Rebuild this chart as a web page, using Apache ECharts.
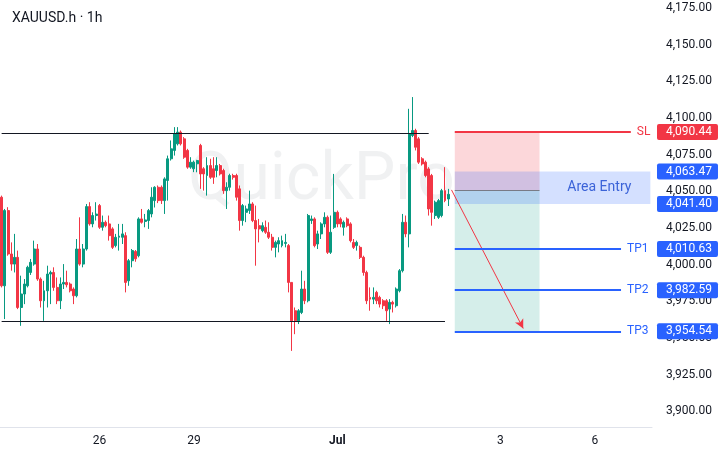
<!DOCTYPE html>
<html>
<head>
<meta charset="UTF-8">
<title>XAUUSD.h 1h</title>
<script src="https://cdn.jsdelivr.net/npm/echarts@6/dist/echarts.min.js"></script>
</head>
<body style="margin:0;background:#fff;">
<div id="main" style="width:723px;height:456px;"></div>
<script type="text/javascript">
// hourly candles
var opens  = [4046.0,3985.6,4036.9,4007.3,4000.4,4005.0,3970.8,3980.0,3985.6,3994.7,4000.4,4010.7,3990.2,3975.4,3982.2,3993.6,3994.7,3984.5,3975.4,3986.8,3987.9,3986.8,3983.4,3978.8,4010.7,4000.4,4010.7,4039.6,4027.8,4033.5,4040.3,4025.5,4028.9,4027.8,4024.4,4013.0,4018.7,4018.7,4019.8,3989.0,4002.7,4009.0,4006.1,4031.2,4029.5,4030.1,4034.6,4043.7,4052.8,4052.8,4043.7,4057.4,4072.2,4077.9,4082.4,4090.4,4085.8,4077.9,4066.5,4065.4,4068.8,4081.3,4065.4,4060.8,4067.6,4065.4,4064.2,4067.6,4064.2,4050.5,4052.8,4060.8,4060.8,4051.7,4030.1,4035.7,4037.0,4041.4,4030.1,4026.6,4023.2,4025.5,4022.1,4018.7,4011.8,4014.1,4013.0,4014.5,4013.0,3987.9,3968.6,3961.7,3967.4,3983.4,3975.4,4030.1,4031.2,4014.1,4021.0,4027.8,4032.3,4008.4,4025.5,4035.7,4031.2,4025.5,4031.2,4027.8,4015.2,4013.0,4011.8,4005.0,3994.7,3977.7,3976.5,3981.1,3977.7,3975.4,3975.4,3969.7,3974.3,3972.0,3982.2,3995.9,4028.9,4021.0,4088.1,4091.5,4085.8,4072.2,4069.9,4065.3,4060.8,4033.5,4032.3,4033.5,4050.5,4044.8];
var closes = [3985.6,4036.9,4007.3,4000.4,4005.0,3970.8,3980.0,3986.8,3998.2,4001.6,4010.7,3990.2,3975.4,3982.2,3993.6,3994.7,3984.5,3975.4,3986.8,3987.9,3986.3,3982.2,3978.8,4010.7,4000.4,4010.7,4039.6,4027.8,4033.5,4034.5,4025.5,4028.9,4026.6,4019.8,4011.8,4018.7,4019.5,4021.0,3987.9,4002.7,4009.6,4004.0,4031.2,4028.9,4030.5,4036.9,4046.0,4052.8,4043.7,4043.7,4058.5,4072.2,4079.0,4089.2,4090.4,4082.4,4073.3,4066.5,4069.9,4069.9,4071.0,4061.9,4061.9,4067.6,4059.6,4059.6,4067.6,4061.9,4050.5,4052.8,4060.8,4059.6,4046.0,4030.1,4040.3,4038.0,4041.4,4030.1,4024.4,4024.4,4026.6,4022.1,4018.7,4011.8,4015.2,4016.4,4016.4,4015.2,3987.9,3961.7,3961.7,3968.6,3983.4,3975.4,4033.5,4031.2,4013.0,4021.0,4027.8,4032.3,4008.4,4022.1,4035.7,4027.8,4027.8,4028.9,4026.6,4016.4,4011.8,4015.2,4005.0,3994.7,3975.4,3976.5,3977.7,3975.4,3973.1,3972.0,3968.6,3974.3,3973.1,3983.4,3995.9,4028.9,4021.0,4089.2,4091.5,4080.1,4069.9,4068.7,4060.8,4038.0,4035.7,4042.6,4043.7,4050.5,4043.7,4048.0];
var lows   = [3984.5,3962.9,4006.1,3995.9,3994.7,3969.7,3958.3,3973.1,3984.5,3993.0,3999.3,3989.0,3970.8,3961.7,3970.8,3973.1,3982.2,3973.1,3969.7,3983.4,3984.5,3981.1,3973.1,3977.7,3999.3,3998.2,4009.6,4026.6,4025.5,4030.1,4024.4,4023.2,4025.5,4016.4,4010.7,4011.8,4009.6,4014.1,3981.1,3985.6,3998.2,4002.0,4005.0,4028.0,4025.5,4024.4,4032.3,4039.0,4042.0,4041.4,4034.6,4043.7,4071.0,4074.4,4081.3,4081.3,4072.2,4065.4,4065.4,4063.1,4063.0,4051.7,4050.5,4047.1,4058.5,4055.1,4059.6,4060.8,4048.3,4038.0,4050.5,4058.0,4043.7,4023.2,4026.6,4029.0,4034.6,4029.0,3999.3,4015.2,4022.1,4021.0,4017.5,4009.6,4005.0,4008.4,4011.8,4011.8,3981.1,3941.2,3952.6,3959.5,3966.3,3973.1,3974.3,4027.8,4011.8,4010.7,4017.5,4025.5,4007.3,4007.3,4024.4,4025.5,4025.5,4019.8,4025.5,4015.2,4010.7,4009.6,4003.9,3992.5,3973.1,3968.6,3973.1,3973.1,3970.8,3969.7,3961.7,3959.5,3967.4,3970.8,3981.1,3994.7,4018.7,4011.8,4087.0,4077.9,4068.7,4067.6,4059.6,4033.5,4026.6,4031.2,4031.2,4032.3,4042.6,4040.0];
var highs  = [4047.1,4038.0,4039.2,4015.2,4021.0,4009.6,3992.5,3990.2,3999.3,4003.9,4016.4,4014.1,3991.3,3989.0,3999.3,3995.9,3998.2,3991.3,3991.3,4000.4,3995.9,3987.9,3984.5,4017.5,4032.3,4014.1,4041.4,4042.6,4035.7,4042.6,4041.4,4033.5,4030.1,4033.5,4025.5,4021.0,4027.8,4027.8,4022.1,4003.9,4010.7,4010.0,4032.3,4038.0,4034.6,4038.0,4052.8,4053.5,4054.0,4054.0,4059.6,4074.4,4084.7,4093.8,4093.8,4091.5,4087.0,4079.0,4073.3,4071.0,4071.5,4082.4,4066.5,4073.3,4072.2,4073.3,4073.3,4068.7,4065.4,4056.2,4062.0,4062.0,4062.0,4054.0,4041.4,4040.3,4050.5,4042.6,4040.3,4031.2,4028.9,4030.1,4028.9,4021.0,4016.4,4018.7,4019.8,4021.0,4014.1,3987.9,3970.8,3969.7,3995.9,3989.0,4034.6,4033.5,4032.3,4023.2,4028.9,4035.7,4033.5,4033.5,4061.9,4036.9,4032.3,4030.1,4032.3,4028.9,4017.5,4016.4,4013.0,4006.1,3995.9,3984.5,3984.5,3982.2,3978.8,3976.5,3976.5,3976.5,3975.4,3984.5,3997.0,4034.6,4033.5,4106.3,4114.3,4092.7,4087.0,4073.3,4071.0,4066.5,4061.9,4043.7,4044.8,4051.7,4066.5,4051.7];

// x axis: 200 hourly slots, date labels at some of them
var slotCount = 200;
var dayIndex  = [30, 59, 103, 153, 182];
var dayLabels = ['26', '29', 'Jul', '3', '6'];

// price scale labels and trade levels
var priceTicks = [3900, 3925, 3950, 3975, 4000, 4025, 4050, 4075, 4100, 4125, 4150, 4175];
var rangeTop = 4089.4, rangeBottom = 3961.7;
var stopLoss = 4090.44;
var entryHigh = 4063.47, entryLow = 4041.40, entryMid = 4051.0;
var takeProfits = [4010.63, 3982.59, 3954.54];
var tpNames = ['TP1', 'TP2', 'TP3'];

var RED = '#f23645', GREEN = '#089981', BLUE = '#2962ff', TEXT = '#131722';

var cats = [];
for (var i = 0; i < slotCount; i++) cats.push('h' + i);

var candles = [];
for (var i = 0; i < opens.length; i++) {
    candles.push([opens[i], closes[i], lows[i], highs[i]]);
}

function fmtPrice(v) {
    var s = v.toFixed(2).split('.');
    return s[0].replace(/\B(?=(\d{3})+(?!\d))/g, ',') + '.' + s[1];
}

var zoneStart = 139, zoneEnd = 165, lineEnd = 190, slEnd = 193;

var lines = [
    [{coord: [0, rangeTop]}, {coord: [131, rangeTop]}],
    [{coord: [0, rangeBottom]}, {coord: [136, rangeBottom]}],
    [{coord: [zoneStart, stopLoss], lineStyle: {color: RED, width: 2},
      label: {show: true, position: 'end', formatter: 'SL', color: RED, fontSize: 12, distance: 6}},
     {coord: [slEnd, stopLoss]}],
    [{coord: [zoneStart, entryMid], lineStyle: {color: '#787b86', width: 1}}, {coord: [zoneEnd, entryMid]}],
    [{coord: [138, entryMid], symbol: 'none', lineStyle: {color: RED, width: 1}},
     {coord: [160, 3956.5], symbol: 'arrow', symbolSize: [7, 9]}]
];
takeProfits.forEach(function (tp, k) {
    lines.push([
        {coord: [zoneStart, tp], lineStyle: {color: BLUE, width: 2},
         label: {show: true, position: 'end', formatter: tpNames[k], color: BLUE, fontSize: 12, distance: 6}},
        {coord: [lineEnd, tp]}
    ]);
});

var tagValues = [stopLoss, entryHigh, entryLow].concat(takeProfits);

var myChart = echarts.init(document.getElementById('main'));
myChart.setOption({
    animation: false,
    backgroundColor: '#ffffff',
    textStyle: {fontFamily: 'Roboto'},
    title: {
        text: 'XAUUSD.h · 1h',
        left: 7, top: 6,
        textStyle: {fontSize: 14, fontWeight: 'normal', color: TEXT, fontFamily: 'Roboto'}
    },
    graphic: [{
        type: 'text', left: 188, top: 149, z: -10, silent: true,
        style: {text: 'QuickPro', font: '66px Roboto', fill: 'rgba(120,123,134,0.11)'}
    }],
    grid: {left: 0, right: 71, top: 0, bottom: 29},
    xAxis: {
        type: 'category',
        data: cats,
        boundaryGap: true,
        axisLine: {lineStyle: {color: '#e0e3eb'}},
        axisTick: {show: false},
        splitLine: {show: false},
        axisLabel: {
            margin: 8,
            color: TEXT,
            fontSize: 12,
            interval: function (idx) { return dayIndex.indexOf(idx) >= 0; },
            formatter: function (val, idx) {
                var k = dayIndex.indexOf(idx);
                if (k < 0) return '';
                return dayLabels[k] === 'Jul' ? '{b|Jul}' : dayLabels[k];
            },
            rich: {b: {fontWeight: 'bold', fontSize: 12, color: TEXT}}
        }
    },
    yAxis: [{
        type: 'value',
        position: 'right',
        min: 3889.3,
        max: 4180.5,
        axisLine: {show: false},
        axisTick: {show: false},
        splitLine: {show: false},
        axisLabel: {
            customValues: priceTicks,
            margin: 14,
            color: TEXT,
            fontSize: 12,
            formatter: function (v) { return fmtPrice(v); }
        }
    }, {
        type: 'value',
        position: 'right',
        min: 3889.3,
        max: 4180.5,
        axisLine: {show: false},
        axisTick: {show: false},
        splitLine: {show: false},
        axisLabel: {
            customValues: tagValues,
            margin: 5,
            formatter: function (v) {
                return (Math.abs(v - stopLoss) < 0.01 ? '{r|' : '{b|') + fmtPrice(v) + '}';
            },
            rich: {
                r: {backgroundColor: RED, color: '#fff', fontSize: 12, lineHeight: 13,
                    padding: [2, 6, 2, 9], borderRadius: 2},
                b: {backgroundColor: BLUE, color: '#fff', fontSize: 12, lineHeight: 13,
                    padding: [2, 6, 2, 9], borderRadius: 2}
            }
        }
    }],
    series: [{
        type: 'candlestick',
        data: candles,
        barWidth: '75%',
        itemStyle: {
            color: GREEN, color0: RED,
            borderColor: GREEN, borderColor0: RED,
            borderWidth: 1
        },
        markLine: {
            silent: true,
            symbol: 'none',
            label: {show: false},
            lineStyle: {color: TEXT, width: 1, type: 'solid'},
            data: lines
        },
        markArea: {
            silent: true,
            data: [
                [{coord: [zoneStart, stopLoss], itemStyle: {color: 'rgba(242,54,69,0.2)'}}, {coord: [zoneEnd, entryMid]}],
                [{coord: [zoneStart, entryMid], itemStyle: {color: 'rgba(8,153,129,0.17)'}}, {coord: [zoneEnd, takeProfits[2]]}],
                [{coord: [zoneStart, entryHigh], itemStyle: {color: 'rgba(41,98,255,0.2)'},
                  label: {show: true, formatter: 'Area Entry', position: 'insideRight', distance: 19,
                          color: '#3b63d8', fontSize: 14}},
                 {coord: [slotCount - 1, entryLow]}]
            ]
        }
    }]
});
</script>
</body>
</html>
